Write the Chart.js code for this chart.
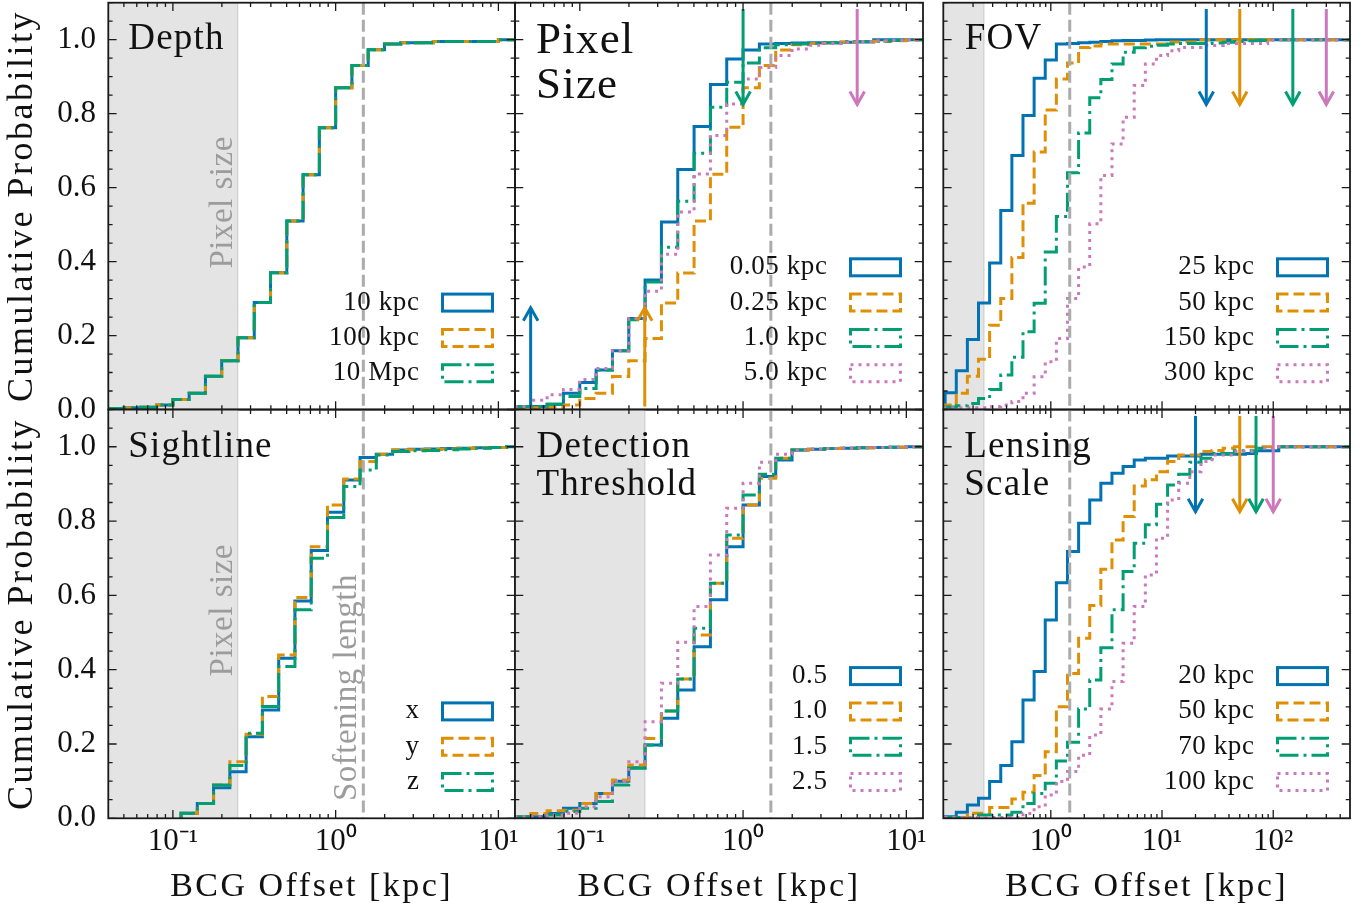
<!DOCTYPE html>
<html>
<head>
<meta charset="utf-8">
<title>BCG offset cumulative distributions</title>
<script src="https://cdn.jsdelivr.net/npm/chart.js@4.4.1/dist/chart.umd.min.js"></script>
<style>
  html, body { margin:0; padding:0; background:#ffffff; }
  #fig { position:relative; width:1369px; height:912px; overflow:hidden; background:#ffffff; }
  #fig canvas { position:absolute; left:0; top:0; }
</style>
</head>
<body>
<div id="fig">
  <canvas id="pDepth" width="1369" height="912"></canvas>
  <canvas id="pPixel" width="1369" height="912"></canvas>
  <canvas id="pFov" width="1369" height="912"></canvas>
  <canvas id="pSight" width="1369" height="912"></canvas>
  <canvas id="pDetect" width="1369" height="912"></canvas>
  <canvas id="pLens" width="1369" height="912"></canvas>
</div>
<script>
// ================= DATA =================
// histogram bin edges [kpc]
const binEdgesA = [0.0398, 0.0501, 0.0631, 0.0794, 0.1000, 0.1259, 0.1585, 0.1995, 0.2512, 0.3162, 0.3981, 0.5012, 0.6310, 0.7943, 1.000, 1.259, 1.585, 1.995, 2.512, 3.162, 3.981, 5.012, 6.310, 7.943, 10.00, 12.59, 15.85];
const binEdgesB = [0.1122, 0.1413, 0.1778, 0.2239, 0.2818, 0.3548, 0.4467, 0.5623, 0.7079, 0.8913, 1.122, 1.413, 1.778, 2.239, 2.818, 3.548, 4.467, 5.623, 7.079, 8.913, 11.22, 14.13, 17.78, 22.39, 28.18, 35.48, 44.67, 56.23, 70.79, 89.13, 112.2, 141.3, 177.8, 223.9, 281.8, 354.8, 446.7, 562.3];

// Depth (edges A)
const depthLabels = ['10 kpc', '100 kpc', '10 Mpc'];
const depth10kpc  = [0.003,0.005,0.006,0.012,0.027,0.044,0.090,0.132,0.194,0.289,0.370,0.510,0.635,0.762,0.870,0.930,0.973,0.988,0.992,0.992,0.995,0.995,0.995,0.995,1.0,1.0];
const depth100kpc = [0.003,0.005,0.006,0.012,0.027,0.044,0.090,0.132,0.194,0.289,0.370,0.510,0.635,0.762,0.870,0.930,0.973,0.988,0.992,0.992,0.995,0.995,0.995,0.995,1.0,1.0];
const depth10Mpc  = [0.003,0.005,0.006,0.012,0.027,0.044,0.090,0.132,0.194,0.289,0.370,0.510,0.635,0.762,0.870,0.930,0.973,0.988,0.992,0.992,0.995,0.995,0.995,0.995,1.0,1.0];

// Pixel size (edges A)
const pixelLabels = ['0.05 kpc', '0.25 kpc', '1.0 kpc', '5.0 kpc'];
const pix005 = [0.008,0.008,0.014,0.044,0.073,0.107,0.159,0.246,0.350,0.507,0.649,0.765,0.879,0.948,0.972,0.988,0.990,0.991,0.992,0.992,0.993,0.994,1.0,1.0,1.0,1.0];
const pix025 = [0.003,0.005,0.006,0.012,0.030,0.044,0.089,0.132,0.192,0.288,0.369,0.510,0.636,0.763,0.870,0.930,0.972,0.986,0.990,0.992,0.994,0.995,0.996,0.997,1.0,1.0];
const pix10  = [0.008,0.008,0.014,0.035,0.057,0.107,0.159,0.243,0.345,0.439,0.563,0.693,0.817,0.885,0.937,0.978,0.986,0.988,0.990,0.992,0.995,0.995,0.996,0.998,1.0,1.0];
const pix50  = [0.008,0.025,0.040,0.054,0.081,0.111,0.159,0.246,0.320,0.420,0.534,0.637,0.741,0.826,0.894,0.925,0.957,0.975,0.985,0.990,0.993,0.995,0.997,0.998,1.0,1.0];
const pixelArrowValues = [0.05, 0.25, 1.0, 5.0];

// FOV (edges B)
const fovLabels = ['25 kpc', '50 kpc', '150 kpc', '300 kpc'];
const fov25  = [0.045,0.105,0.189,0.288,0.396,0.538,0.687,0.795,0.896,0.945,0.988,0.990,0.992,0.993,0.995,0.997,0.998,0.998,0.999,1,1,1,1,1,1,1,1,1,1,1,1,1,1,1,1,1,1];
const fov50  = [0.012,0.044,0.090,0.136,0.228,0.300,0.411,0.558,0.696,0.810,0.894,0.937,0.979,0.983,0.988,0.988,0.988,0.988,0.988,0.988,0.994,0.994,0.994,1,1,1,1,1,1,1,1,1,1,1,1,1,1];
const fov150 = [0.007,0.010,0.016,0.030,0.054,0.093,0.141,0.210,0.287,0.426,0.522,0.640,0.748,0.843,0.892,0.934,0.966,0.978,0.982,0.985,0.988,0.990,0.990,0.990,0.991,0.993,0.995,0.997,0.998,1,1,1,1,1,1,1,1];
const fov300 = [0.005,0.005,0.005,0.005,0.008,0.012,0.0215,0.044,0.0886,0.129,0.192,0.300,0.385,0.502,0.633,0.718,0.790,0.876,0.934,0.957,0.970,0.979,0.979,0.984,0.984,0.990,0.990,0.990,0.990,1,1,1,1,1,1,1,1];
const fovArrowValues = [25, 50, 150, 300];

// Sightline (edges B)
const sightLabels = ['x', 'y', 'z'];
const sightX = [0.0135,0.040,0.0825,0.1256,0.2198,0.2916,0.4307,0.585,0.7205,0.8237,0.9107,0.9708,0.980,0.9915,0.993,0.994,0.995,0.996,0.997,0.998,1.0,1.0];
const sightY = [0.0135,0.040,0.0897,0.1525,0.226,0.3275,0.4397,0.594,0.731,0.8434,0.9134,0.960,0.980,0.9915,0.992,0.993,0.994,0.996,0.997,0.998,1.0,1.0];
const sightZ = [0.0135,0.040,0.0897,0.1418,0.229,0.3006,0.4083,0.561,0.700,0.8093,0.8928,0.9376,0.978,0.987,0.989,0.990,0.992,0.994,0.996,0.998,1.0,1.0];

// Detection threshold (edges A)
const detectLabels = ['0.5', '1.0', '1.5', '2.5'];
const det05 = [0.0045,0.0045,0.013,0.027,0.040,0.067,0.100,0.136,0.197,0.269,0.345,0.462,0.588,0.731,0.843,0.920,0.9645,0.9915,0.993,0.995,0.996,0.997,0.998,0.999,1.0,1.0];
const det10 = [0.0045,0.013,0.020,0.022,0.040,0.067,0.103,0.1436,0.215,0.289,0.375,0.4935,0.6326,0.7537,0.843,0.915,0.969,0.9915,0.993,0.995,0.996,0.997,0.998,0.999,1.0,1.0];
const det15 = [0.0045,0.0045,0.009,0.018,0.027,0.045,0.0897,0.1346,0.1974,0.289,0.375,0.5114,0.6326,0.7627,0.8704,0.926,0.969,0.9915,0.993,0.995,0.996,0.997,0.998,0.999,1.0,1.0];
const det25 = [0.0045,0.0045,0.009,0.0135,0.031,0.058,0.100,0.1525,0.260,0.3634,0.4738,0.5698,0.7088,0.8345,0.9017,0.9583,0.980,0.9915,0.993,0.995,0.996,0.997,0.998,0.999,1.0,1.0];

// Lensing scale (edges B)
const lensLabels = ['20 kpc', '50 kpc', '70 kpc', '100 kpc'];
const lens20  = [0.0045,0.016,0.036,0.054,0.099,0.142,0.206,0.3185,0.395,0.534,0.634,0.718,0.794,0.857,0.902,0.929,0.947,0.9645,0.969,0.969,0.975,0.975,0.975,0.980,0.980,0.980,0.980,0.982,0.989,0.989,1,1,1,1,1,1,1];
const lens50  = [0.002,0.002,0.0135,0.0135,0.029,0.029,0.052,0.070,0.115,0.179,0.300,0.390,0.4845,0.5725,0.670,0.749,0.812,0.8946,0.911,0.933,0.960,0.978,0.978,0.987,0.990,0.996,1,1,1,1,1,1,1,1,1,1,1];
const lens70  = [0.002,0.002,0.002,0.009,0.009,0.009,0.016,0.040,0.067,0.094,0.154,0.205,0.294,0.372,0.459,0.561,0.664,0.740,0.790,0.845,0.897,0.926,0.958,0.969,0.982,0.982,0.989,0.989,0.996,0.996,1,1,1,1,1,1,1];
const lens100 = [0.002,0.002,0.002,0.002,0.002,0.002,0.002,0.013,0.031,0.063,0.099,0.126,0.170,0.224,0.294,0.368,0.471,0.570,0.655,0.754,0.857,0.902,0.933,0.960,0.978,0.978,0.987,0.987,0.996,0.996,1,1,1,1,1,1,1];
const lensArrowValues = [20, 50, 70, 100];

// reference scales [kpc]
const pixelSizeKpc = 0.25;
const softeningKpc = 1.48;

// axis ticks
const yTickValues = [0, 0.2, 0.4, 0.6, 0.8, 1.0];
const yTickLabels = ['0.0', '0.2', '0.4', '0.6', '0.8', '1.0'];
const xTickValuesLeft = [0.1, 1, 10];
const xTickLabelsLeft = ['10\u207B\u00B9', '10\u2070', '10\u00B9'];
const xTickValuesRight = [1, 10, 100];
const xTickLabelsRight = ['10\u2070', '10\u00B9', '10\u00B2'];

// ================= STYLE / LAYOUT =================
const FONT = '"Liberation Serif", "Times New Roman", serif';
Chart.defaults.font.family = FONT;
const COLORS = ['#0173B2', '#DE8F05', '#029E73', '#CC78BC'];
const DASHES = [[], [11, 5], [19, 5, 3, 5], [3, 5]];
const COLS = [[108.3, 515], [515, 923], [943.3, 1350]];
const ROWS = [[2.7, 409.5], [409.6, 818.3]];
const XRANGE = [[0.0401, 12.65], [0.0401, 12.65], [0.108, 490]];
const W = 1369, H = 912;

const panels = [
  { canvas:'pDepth', col:0, row:0, edges:binEdgesA, series:[depth10kpc, depth100kpc, depth10Mpc], labels:depthLabels,
    title:['Depth'], titleSize:37, titleX:20, titleLead:46.6, titleGap:0, shade:true, shadeText:true, softText:false, arrows:[] },
  { canvas:'pPixel', col:1, row:0, edges:binEdgesA, series:[pix005, pix025, pix10, pix50], labels:pixelLabels,
    title:['Pixel', 'Size'], titleSize:45, titleX:21, titleLead:50, titleGap:45.6, shade:false, shadeText:false, softText:false,
    arrows:[{v:pixelArrowValues[0], c:0, up:true}, {v:pixelArrowValues[1], c:1, up:true}, {v:pixelArrowValues[2], c:2, up:false}, {v:pixelArrowValues[3], c:3, up:false}] },
  { canvas:'pFov', col:2, row:0, edges:binEdgesB, series:[fov25, fov50, fov150, fov300], labels:fovLabels,
    title:['FOV'], titleSize:37, titleX:21.5, titleLead:46.4, titleGap:0, shade:true, shadeText:false, softText:false,
    arrows:fovArrowValues.map((v, i) => ({v, c:i, up:false})) },
  { canvas:'pSight', col:0, row:1, edges:binEdgesB, series:[sightX, sightY, sightZ], labels:sightLabels,
    title:['Sightline'], titleSize:37, titleX:20, titleLead:47.1, titleGap:0, shade:true, shadeText:true, softText:true, arrows:[] },
  { canvas:'pDetect', col:1, row:1, edges:binEdgesA, series:[det05, det10, det15, det25], labels:detectLabels,
    title:['Detection', 'Threshold'], titleSize:37, titleX:21.5, titleLead:47.1, titleGap:38.3, shade:true, shadeText:false, softText:false, arrows:[] },
  { canvas:'pLens', col:2, row:1, edges:binEdgesB, series:[lens20, lens50, lens70, lens100], labels:lensLabels,
    title:['Lensing', 'Scale'], titleSize:37, titleX:21, titleLead:47.1, titleGap:38.3, shade:true, shadeText:false, softText:false,
    arrows:lensArrowValues.map((v, i) => ({v, c:i, up:false})) }
];

// step points from bin edges and cumulative values
function toSteps(edges, vals) {
  const pts = [{x: edges[0], y: 0}];
  for (let i = 0; i < vals.length; i++) pts.push({x: edges[i], y: vals[i]});
  pts.push({x: edges[vals.length], y: vals[vals.length - 1]});
  return pts;
}

function drawArrow(ctx, px, y0, y1, color) {
  ctx.save();
  ctx.strokeStyle = color; ctx.lineWidth = 3; ctx.setLineDash([]);
  ctx.lineCap = 'butt'; ctx.lineJoin = 'miter';
  ctx.beginPath(); ctx.moveTo(px, y0); ctx.lineTo(px, y1); ctx.stroke();
  const d = y1 > y0 ? -1 : 1;
  ctx.beginPath();
  ctx.moveTo(px - 7.3, y1 + d * 13); ctx.lineTo(px, y1); ctx.lineTo(px + 7.3, y1 + d * 13);
  ctx.stroke();
  ctx.restore();
}

// widen axis-title text a little (the source uses a wide Computer Modern face)
function spacedTitle(s, spacing) {
  if (s._spacedTitle) return;
  s._spacedTitle = true;
  const orig = s.drawTitle;
  s.drawTitle = function (...args) {
    const c = this.ctx;
    c.save();
    c.letterSpacing = spacing;
    orig.apply(this, args);
    c.restore();
  };
}

function decor(p) {
  return {
    id: 'decor',
    beforeDatasetsDraw(chart) {
      const {ctx, chartArea: a, scales: {x, y}} = chart;
      ctx.save();
      ctx.beginPath(); ctx.rect(a.left, a.top, a.right - a.left, a.bottom - a.top); ctx.clip();
      if (p.shade) {
        const xs = x.getPixelForValue(pixelSizeKpc);
        ctx.fillStyle = '#e4e4e4';
        ctx.fillRect(a.left, a.top, xs - a.left, a.bottom - a.top);
        ctx.strokeStyle = '#d0d0d0'; ctx.lineWidth = 1.3;
        ctx.beginPath(); ctx.moveTo(xs, a.top); ctx.lineTo(xs, a.bottom); ctx.stroke();
      }
      ctx.fillStyle = '#9c9c9c';
      ctx.font = '33px ' + FONT;
      ctx.letterSpacing = '0.5px';
      ctx.textAlign = 'center'; ctx.textBaseline = 'alphabetic';
      if (p.shadeText) {
        ctx.save();
        ctx.translate(x.getPixelForValue(pixelSizeKpc) - 5.5, y.getPixelForValue(0.56));
        ctx.rotate(-Math.PI / 2);
        ctx.fillText('Pixel size', 0, 0);
        ctx.restore();
      }
      if (p.softText) {
        ctx.save();
        ctx.translate(x.getPixelForValue(softeningKpc) - 7, y.getPixelForValue(0.352));
        ctx.rotate(-Math.PI / 2);
        ctx.fillText('Softening length', 0, 0);
        ctx.restore();
      }
      ctx.restore();
    },
    afterDatasetsDraw(chart) {
      const {ctx, chartArea: a, scales: {x, y}} = chart;
      ctx.save();
      ctx.beginPath(); ctx.rect(a.left, a.top, a.right - a.left, a.bottom - a.top); ctx.clip();
      const xsoft = x.getPixelForValue(softeningKpc);
      ctx.strokeStyle = '#ababab'; ctx.lineWidth = 3; ctx.setLineDash([12, 5]);
      ctx.beginPath(); ctx.moveTo(xsoft, a.top); ctx.lineTo(xsoft, a.bottom); ctx.stroke();
      ctx.restore();
      p.arrows.forEach(ar => {
        const px = x.getPixelForValue(ar.v);
        if (ar.up) drawArrow(ctx, px, y.getPixelForValue(0.008), y.getPixelForValue(0.275), COLORS[ar.c]);
        else drawArrow(ctx, px, y.getPixelForValue(1.083), y.getPixelForValue(0.825), COLORS[ar.c]);
      });
    },
    afterDraw(chart) {
      const {ctx, chartArea: a, scales: {x, y}} = chart;
      ctx.save();
      // ticks (inward, all sides)
      ctx.strokeStyle = '#1a1a1a'; ctx.lineWidth = 1.3; ctx.setLineDash([]);
      const e0 = Math.floor(Math.log10(x.min)), e1 = Math.ceil(Math.log10(x.max));
      for (let e = e0; e <= e1; e++) {
        for (let m = 1; m <= 9; m++) {
          const v = m * Math.pow(10, e);
          if (v < x.min || v > x.max) continue;
          const px = x.getPixelForValue(v);
          const len = m === 1 ? 8.3 : 4.3;
          ctx.beginPath();
          ctx.moveTo(px, a.bottom); ctx.lineTo(px, a.bottom - len);
          ctx.moveTo(px, a.top); ctx.lineTo(px, a.top + len);
          ctx.stroke();
        }
      }
      for (let i = 0; i <= 22; i++) {
        const v = i * 0.05;
        const py = y.getPixelForValue(v);
        const len = i % 4 === 0 ? 8.3 : 4.3;
        ctx.beginPath();
        ctx.moveTo(a.left, py); ctx.lineTo(a.left + len, py);
        ctx.moveTo(a.right, py); ctx.lineTo(a.right - len, py);
        ctx.stroke();
      }
      // frame
      ctx.lineWidth = 1.8; ctx.strokeStyle = '#1a1a1a';
      ctx.strokeRect(a.left, a.top, a.right - a.left, a.bottom - a.top);
      // title
      ctx.fillStyle = '#111111';
      ctx.font = p.titleSize + 'px ' + FONT;
      ctx.letterSpacing = '1.2px';
      ctx.textAlign = 'left'; ctx.textBaseline = 'alphabetic';
      p.title.forEach((t, i) => ctx.fillText(t, a.left + p.titleX, a.top + p.titleLead + i * p.titleGap));
      ctx.letterSpacing = '0.6px';
      // legend (labels left of outlined handles)
      const ds = chart.data.datasets;
      const n = ds.length;
      const rectR = a.right - 22.5, rectL = rectR - 50;
      ds.forEach((d, i) => {
        const cy = a.bottom - 36.3 - (n - 1 - i) * 35.3;
        ctx.setLineDash(d.borderDash); ctx.lineWidth = 3; ctx.strokeStyle = d.borderColor;
        ctx.lineCap = 'butt'; ctx.lineJoin = 'miter';
        ctx.strokeRect(rectL, cy - 8.5, 50, 17);
        ctx.setLineDash([]);
        ctx.fillStyle = '#111111'; ctx.font = '27px ' + FONT;
        ctx.textAlign = 'right'; ctx.textBaseline = 'middle';
        ctx.fillText(d.label, rectL - 23, cy);
      });
      ctx.restore();
    }
  };
}

function zeroPad(s) {
  s.paddingTop = 0; s.paddingBottom = 0; s.paddingLeft = 0; s.paddingRight = 0;
}

function buildChart(p) {
  const [L, R] = COLS[p.col];
  const [T, B] = ROWS[p.row];
  const showY = p.col === 0, showX = p.row === 1;
  const yW = showY ? L : 0;
  const xH = showX ? H - B : 0;
  const xVals = p.col === 2 ? xTickValuesRight : xTickValuesLeft;
  const xLbls = p.col === 2 ? xTickLabelsRight : xTickLabelsLeft;
  const datasets = p.series.map((vals, i) => ({
    label: p.labels[i],
    data: toSteps(p.edges, vals),
    borderColor: COLORS[i],
    backgroundColor: COLORS[i],
    borderWidth: 3,
    borderDash: DASHES[i],
    borderCapStyle: 'butt',
    borderJoinStyle: 'miter',
    pointRadius: 0, pointHoverRadius: 0,
    fill: false, stepped: true, tension: 0,
    clip: 0, order: -i
  }));
  return new Chart(document.getElementById(p.canvas), {
    type: 'line',
    data: { datasets },
    options: {
      responsive: false, animation: false, devicePixelRatio: 1, events: [],
      layout: { padding: { left: L - yW, right: W - R, top: T, bottom: H - B - xH } },
      plugins: { legend: { display: false }, tooltip: { enabled: false } },
      scales: {
        x: {
          type: 'logarithmic', position: 'bottom', min: XRANGE[p.col][0], max: XRANGE[p.col][1], display: showX,
          grid: { display: false, drawTicks: false }, border: { display: false },
          afterFit: s => { s.height = xH; zeroPad(s); spacedTitle(s, '2.5px'); },
          afterBuildTicks: s => { s.ticks = xVals.map(v => ({ value: v })); },
          ticks: { autoSkip: false, maxRotation: 0, minRotation: 0, padding: 5, color: '#111111',
                   font: { family: FONT, size: 31 }, callback: (v, i) => xLbls[i] },
          title: { display: showX, text: 'BCG Offset [kpc]', color: '#111111',
                   font: { family: FONT, size: 34 }, padding: { top: 0, bottom: 4.6 } }
        },
        y: {
          type: 'linear', position: 'left', min: 0, max: 1.1, display: showY,
          grid: { display: false, drawTicks: false }, border: { display: false },
          afterFit: s => { s.width = yW; zeroPad(s); spacedTitle(s, '2.5px'); },
          afterBuildTicks: s => { s.ticks = yTickValues.map(v => ({ value: v })); },
          ticks: { autoSkip: false, padding: 12.3, color: '#111111',
                   font: { family: FONT, size: 31 }, callback: (v, i) => yTickLabels[i] },
          title: { display: showY, text: 'Cumulative Probability', color: '#111111',
                   font: { family: FONT, size: 36 }, padding: { top: 0.5, bottom: 0 } }
        }
      }
    },
    plugins: [decor(p)]
  });
}

panels.forEach(buildChart);
</script>
</body>
</html>
